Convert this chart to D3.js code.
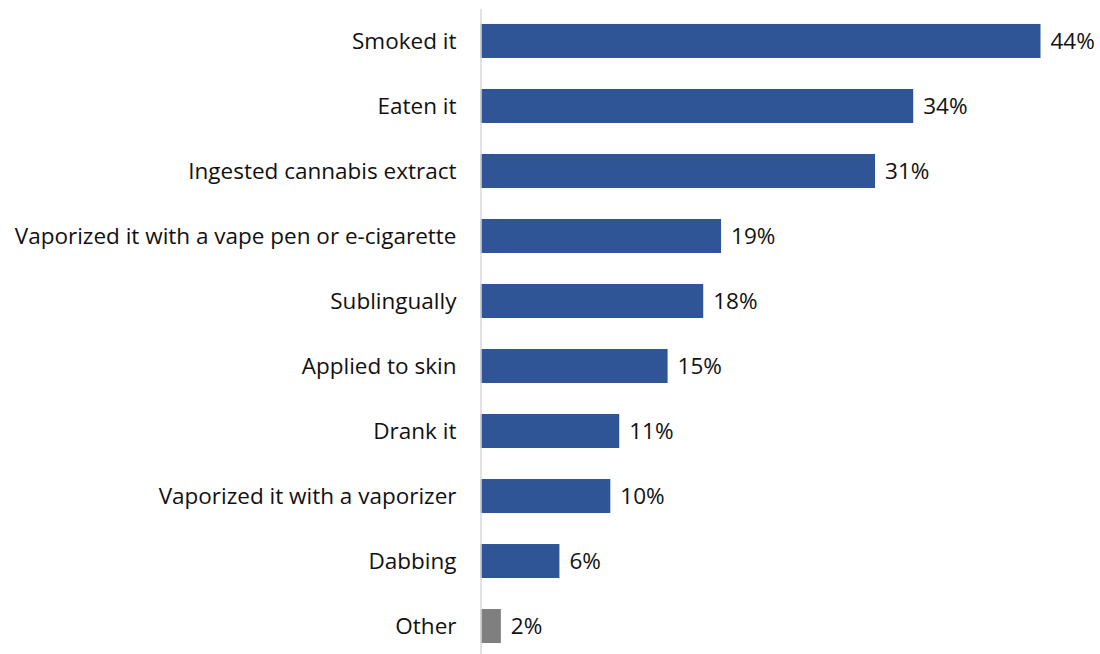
<!DOCTYPE html>
<html><head><meta charset="utf-8">
<script src="https://cdn.jsdelivr.net/npm/d3@7"></script>
<style>body{margin:0;background:#fff}svg{display:block}</style>
</head><body><svg id="c" width="1100" height="654"></svg>
<script>
const categories = ["Smoked it","Eaten it","Ingested cannabis extract","Vaporized it with a vape pen or e-cigarette","Sublingually","Applied to skin","Drank it","Vaporized it with a vaporizer","Dabbing","Other"];
const values = [44, 34, 31, 18.9, 17.5, 14.7, 10.9, 10.2, 6.2, 1.6];
const valueLabels = ["44%","34%","31%","19%","18%","15%","11%","10%","6%","2%"];
const barColors = ["#2F5597","#2F5597","#2F5597","#2F5597","#2F5597","#2F5597","#2F5597","#2F5597","#2F5597","#7F7F7F"];

const svg = d3.select("#c");
const font = "'Open Sans', sans-serif";
const fs = 22.5;
const x = d3.scaleLinear().domain([0, 44]).range([480.5, 1040.5]);
const y = d3.scaleBand().domain(categories).range([8.5, 658.5]).paddingInner(0.477).paddingOuter(0.238);

svg.selectAll("rect.bar").data(categories).join("rect")
  .attr("class","bar")
  .attr("x", x(0))
  .attr("y", d => y(d))
  .attr("width", (d,i) => x(values[i]) - x(0))
  .attr("height", y.bandwidth())
  .attr("fill", (d,i) => barColors[i]);

const ax = svg.append("g").attr("transform", `translate(${x(0)},0)`)
  .call(d3.axisLeft(y).tickSize(0).tickPadding(24));
ax.select(".domain").attr("stroke","#D9D9D9").attr("stroke-width",1.5);
ax.selectAll("text").attr("font-family", font).attr("font-size", fs).attr("fill","#111").attr("dy","0.35em");

svg.selectAll("text.val").data(categories).join("text")
  .attr("class","val")
  .attr("x", (d,i) => x(values[i]) + 10)
  .attr("y", d => y(d) + y.bandwidth()/2)
  .attr("dy","0.35em")
  .attr("font-family", font).attr("font-size", fs).attr("fill","#111")
  .text((d,i) => valueLabels[i]);
</script></body></html>
